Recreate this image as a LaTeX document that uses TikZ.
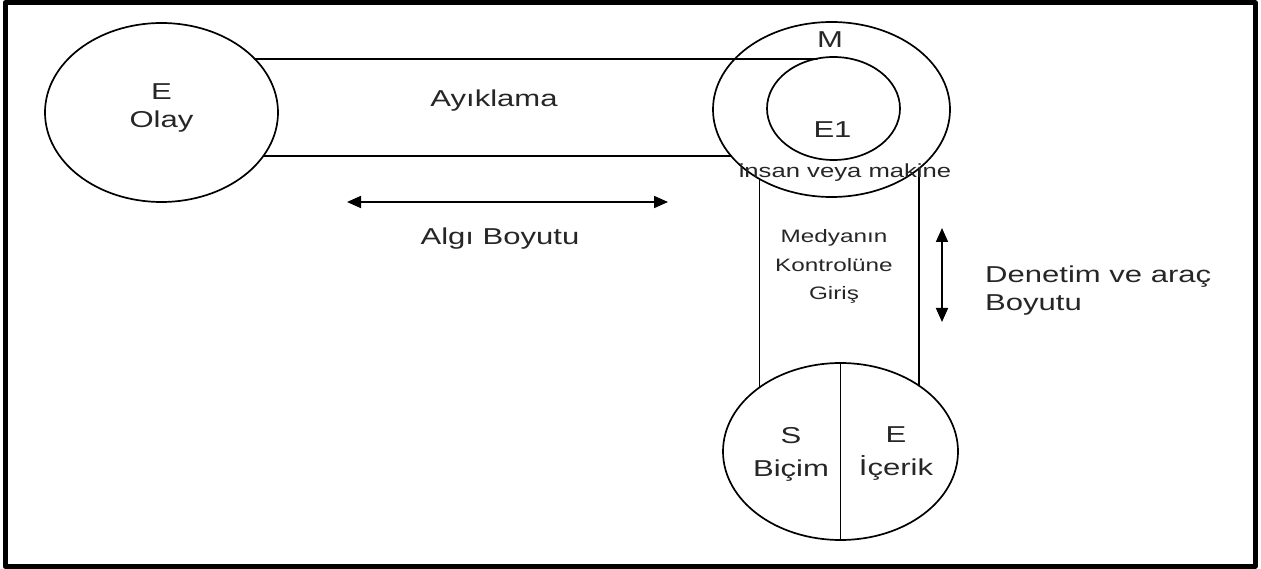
\documentclass[tikz,border=0pt]{standalone}
\usepackage{fontspec}
\setmainfont[FakeStretch=1.35]{Liberation Sans}
\usetikzlibrary{shapes.geometric}
\usetikzlibrary{arrows.meta}
\usetikzlibrary{positioning}

\begin{document}
\begin{tikzpicture}[x = 1pt, y = -1pt, line cap = round, line join = round,
  blob/.style = {ellipse, draw, line width = 1.7pt, inner sep = 0pt, outer sep = 0pt},
  txt/.style = {font = \fontsize{23}{28}\selectfont, align = center, inner sep = 0pt, text = black!85},
  smalltxt/.style = {font = \fontsize{18}{28.5}\selectfont, align = center, inner sep = 0pt, text = black!85},
  dimarrow/.style = {line width = 1.7pt, {Triangle[length = 14pt, width = 12pt]}-{Triangle[length = 14pt, width = 12pt]}}]
  \useasboundingbox (0, 0) rectangle (1261, 569);
  \draw[line width = 5pt] (5, 3) rectangle (1255, 566);

  % circles
  \node[blob, minimum width = 233, minimum height = 179] (olay) at (161.5, 112.5) {};
  \node[blob, minimum width = 237, minimum height = 175] (medya) at (831.5, 109.5) {};
  \node[blob, minimum width = 133, minimum height = 103] (insan) at (833.5, 108.5) {};
  \node[blob, minimum width = 235, minimum height = 177] (mesaj) at (840.5, 451.5) {};

  % connecting lines
  \draw[line width = 1.7pt] (olay.30.5) -- (olay.30.5 -| insan.108);
  \draw[line width = 1.7pt] (olay.-23.75) -- (olay.-23.75 -| medya.205.5);
  \draw[line width = 1.7pt] (medya.224.3) -- (medya.224.3 |- mesaj.141.3);
  \draw[line width = 1.7pt] (medya.-34.7) -- (medya.-34.7 |- mesaj.40.6);
  \draw[line width = 1.7pt] (mesaj.north) -- (mesaj.south);

  % texts
  \node[txt] (olayTxt) at (161.5, 108.3) {E\\Olay};
  \node[txt, anchor = base] (ayiklama) at (494, 107) {Ayıklama};
  \node[txt, anchor = base] (mTxt) at (830, 48) {M};
  \node[txt, anchor = base] (e1Txt) at (832.5, 138) {E1};
  \node[txt, anchor = base, font = \fontsize{19}{24}\selectfont] (insanTxt) at (845, 178) {insan veya makine};
  \node[smalltxt] (girisTxt) at (834, 266.8) {Medyanın\\Kontrolüne\\Giriş};
  \node[txt, font = \fontsize{23}{33}\selectfont] (bicimTxt) at (791, 454) {S\\Biçim};
  \node[txt, font = \fontsize{23}{33}\selectfont] (icerikTxt) at (896, 454) {E\\İçerik};

  % dimension arrows
  \coordinate (algiL) at (347, 202);
  \coordinate (algiR) at (668, 202);
  \draw[dimarrow] (algiL) -- (algiR);
  \node[txt, anchor = base] (algiTxt) at (500, 245) {Algı Boyutu};

  \coordinate (denetimT) at (942, 228);
  \coordinate (denetimB) at (942, 322);
  \draw[dimarrow] (denetimT) -- (denetimB);
  \node[txt, align = left, anchor = north west] (denetimTxt) at (985, 265.5) {Denetim ve araç\\Boyutu};
\end{tikzpicture}
\end{document}
